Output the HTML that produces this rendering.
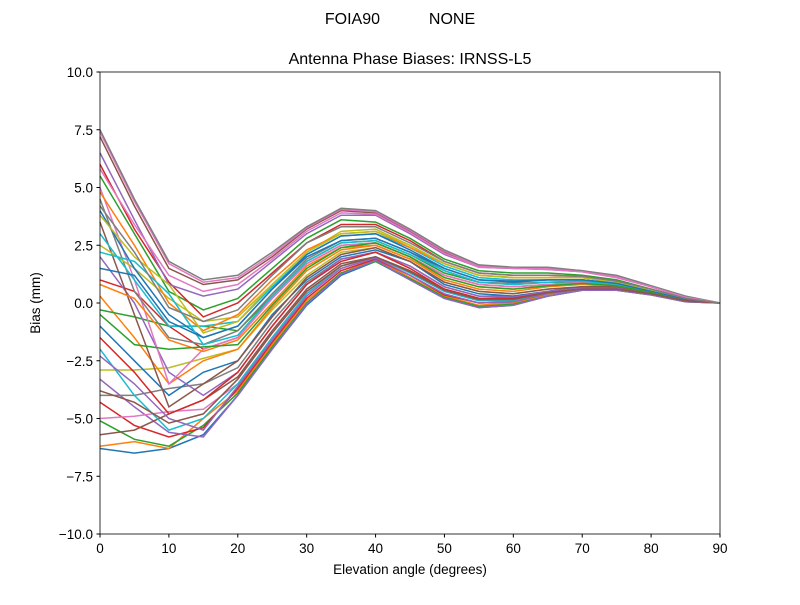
<!DOCTYPE html>
<html><head><meta charset="utf-8"><style>
body{margin:0;background:#fff}
svg text{font-family:"Liberation Sans","DejaVu Sans",sans-serif;fill:#000}
</style></head><body>
<svg id="chart" width="800" height="600" xmlns="http://www.w3.org/2000/svg">
<rect width="800" height="600" fill="#fff"/>
<text x="400" y="24" font-size="16" text-anchor="middle" xml:space="preserve">FOIA90           NONE</text>
<text x="410" y="64" font-size="16" text-anchor="middle">Antenna Phase Biases: IRNSS-L5</text>
<g id="lines"></g>
<g id="axes"></g>
<text x="410" y="574" font-size="13.5" text-anchor="middle">Elevation angle (degrees)</text>
<text x="40" y="303" font-size="13.5" text-anchor="middle" transform="rotate(-90 40 303)">Bias (mm)</text>
</svg>
<script>
const angles=[0,5,10,15,20,25,30,35,40,45,50,55,60,65,70,75,80,85,90];
const xTicks=[0,10,20,30,40,50,60,70,80,90];
const yTicks=[-10,-7.5,-5,-2.5,0,2.5,5,7.5,10];
const yTickLabels=["\u221210.0","\u22127.5","\u22125.0","\u22122.5","0.0","2.5","5.0","7.5","10.0"];
const colors=["#1f77b4","#ff7f0e","#2ca02c","#d62728","#9467bd","#8c564b","#e377c2","#7f7f7f","#bcbd22","#17becf"];
const biasSeries=[
[-6.3,-6.5,-6.3,-5.7,-4.0,-2.0,-0.1,1.2,1.8,1.0,0.2,-0.2,-0.1,0.3,0.55,0.55,0.35,0.05,0],
[-6.2,-6.0,-6.3,-5.0,-3.8,-1.8,0.1,1.3,1.9,1.1,0.3,-0.1,0.0,0.35,0.55,0.55,0.35,0.05,0],
[-5.1,-5.9,-6.2,-5.3,-3.9,-1.9,0.0,1.3,1.8,1.05,0.25,-0.15,-0.05,0.3,0.55,0.55,0.35,0.05,0],
[-4.3,-5.3,-5.8,-5.4,-3.7,-1.7,0.2,1.4,1.9,1.2,0.35,0.0,0.05,0.4,0.6,0.6,0.4,0.1,0],
[-3.3,-4.5,-5.6,-5.8,-4.0,-2.0,-0.05,1.25,1.85,1.0,0.2,-0.2,-0.1,0.3,0.55,0.55,0.35,0.05,0],
[-5.7,-5.5,-4.8,-4.2,-3.2,-1.2,0.6,1.7,2.0,1.4,0.6,0.2,0.2,0.45,0.6,0.6,0.4,0.1,0],
[-5.0,-4.9,-4.7,-4.6,-3.5,-1.5,0.4,1.5,2.0,1.3,0.5,0.1,0.1,0.4,0.6,0.6,0.4,0.1,0],
[-4.0,-4.0,-3.7,-3.5,-2.8,-0.8,0.9,1.9,2.2,1.6,0.7,0.3,0.3,0.5,0.65,0.65,0.4,0.1,0],
[-2.9,-2.9,-2.8,-2.4,-2.0,-0.3,1.2,2.2,2.4,1.8,0.9,0.5,0.4,0.6,0.7,0.7,0.45,0.1,0],
[-2.0,-4.0,-5.5,-5.0,-3.5,-1.5,0.4,1.6,2.0,1.3,0.5,0.1,0.1,0.4,0.6,0.6,0.4,0.1,0],
[-1.0,-2.5,-4.0,-3.0,-2.5,-0.5,1.0,2.0,2.3,1.8,0.8,0.4,0.3,0.5,0.7,0.7,0.45,0.1,0],
[0.3,-1.5,-3.5,-2.5,-2.0,-0.2,1.4,2.3,2.5,1.9,1.0,0.6,0.5,0.7,0.8,0.7,0.45,0.1,0],
[-0.3,-0.6,-1.0,-1.0,-1.2,0.3,1.8,2.6,2.7,2.1,1.3,0.9,0.8,0.9,0.9,0.8,0.5,0.15,0],
[1.0,0.5,-1.0,-2.0,-1.5,0.2,1.7,2.5,2.6,2.0,1.2,0.8,0.7,0.8,0.9,0.75,0.5,0.15,0],
[2.0,0.0,-3.0,-4.0,-3.0,-1.0,0.8,1.9,2.2,1.6,0.7,0.3,0.25,0.5,0.65,0.65,0.4,0.1,0],
[3.5,-0.5,-4.5,-3.5,-2.5,-0.6,1.1,2.1,2.4,1.8,0.9,0.5,0.4,0.6,0.7,0.7,0.45,0.1,0],
[5.0,1.0,-3.5,-2.0,-1.5,0.2,1.7,2.5,2.6,2.0,1.2,0.8,0.7,0.8,0.9,0.75,0.5,0.15,0],
[4.5,0.5,-1.5,-1.8,-1.2,0.4,1.9,2.7,2.8,2.2,1.4,0.9,0.85,0.9,0.95,0.8,0.5,0.15,0],
[2.5,1.5,0.2,-0.8,-0.6,0.8,2.2,3.1,3.2,2.5,1.7,1.2,1.1,1.1,1.1,0.9,0.55,0.2,0],
[3.0,1.0,-1.0,-1.0,-0.8,0.7,2.1,2.9,3.0,2.4,1.6,1.1,1.0,1.0,1.0,0.85,0.5,0.15,0],
[4.0,1.5,-0.5,-1.5,-1.0,0.6,2.0,2.7,2.8,2.2,1.5,1.0,0.9,1.0,1.0,0.85,0.5,0.15,0],
[4.8,2.5,0.0,-1.2,-0.5,1.0,2.3,3.0,3.1,2.4,1.7,1.2,1.1,1.1,1.1,0.9,0.55,0.2,0],
[5.5,3.0,0.5,-0.3,0.2,1.5,2.8,3.6,3.5,2.8,1.9,1.4,1.3,1.3,1.2,1.0,0.6,0.2,0],
[6.0,3.2,0.9,-0.6,0.0,1.3,2.6,3.4,3.4,2.7,1.8,1.3,1.2,1.2,1.15,0.95,0.6,0.2,0],
[6.5,3.6,0.8,0.3,0.6,1.8,3.0,3.8,3.8,3.0,2.1,1.55,1.5,1.45,1.35,1.1,0.7,0.25,0],
[7.2,4.2,1.5,0.8,1.0,2.0,3.2,4.0,3.9,3.1,2.2,1.6,1.5,1.5,1.4,1.15,0.7,0.25,0],
[7.4,4.4,1.7,0.9,1.1,2.1,3.25,4.05,3.95,3.15,2.25,1.6,1.5,1.5,1.4,1.15,0.72,0.28,0],
[7.5,4.5,1.8,1.0,1.2,2.2,3.3,4.1,4.0,3.2,2.3,1.65,1.55,1.55,1.4,1.2,0.75,0.3,0],
[3.8,2.0,0.8,-1.3,-0.8,0.8,2.2,3.0,3.1,2.5,1.7,1.2,1.1,1.1,1.1,0.9,0.55,0.2,0],
[2.2,1.8,0.4,-1.8,-1.4,0.3,1.8,2.6,2.7,2.1,1.4,0.9,0.8,0.9,0.95,0.8,0.5,0.15,0],
[1.5,1.2,-0.8,-1.5,-1.0,0.6,2.1,2.9,3.0,2.3,1.5,1.0,0.95,1.0,1.0,0.85,0.5,0.15,0],
[0.8,0.2,-1.6,-2.1,-1.6,0.0,1.6,2.4,2.5,1.9,1.1,0.7,0.6,0.75,0.85,0.75,0.45,0.1,0],
[-0.5,-1.8,-2.0,-1.9,-1.8,-0.1,1.5,2.4,2.6,2.0,1.1,0.7,0.6,0.75,0.85,0.75,0.45,0.1,0],
[-1.5,-3.0,-4.8,-4.2,-3.0,-1.0,0.8,1.8,2.2,1.5,0.6,0.2,0.2,0.45,0.6,0.6,0.4,0.1,0],
[-2.3,-3.5,-5.0,-5.5,-3.6,-1.6,0.3,1.5,1.95,1.2,0.4,0.0,0.05,0.4,0.6,0.6,0.4,0.1,0],
[-3.8,-4.3,-5.2,-4.8,-3.3,-1.3,0.5,1.6,2.0,1.35,0.55,0.15,0.15,0.45,0.6,0.6,0.4,0.1,0],
[5.8,3.4,1.2,0.5,0.8,1.9,3.1,3.9,3.85,3.05,2.15,1.55,1.5,1.45,1.35,1.1,0.7,0.25,0],
[4.2,2.2,-0.2,-0.8,-0.3,1.2,2.6,3.3,3.3,2.6,1.8,1.3,1.2,1.2,1.15,0.95,0.6,0.2,0]
];
const X0=100,X1=720,Y0=534,Y1=72;
function sx(v){return X0+(v-0)/(90-0)*(X1-X0);}
function sy(v){return Y0-(v+10)/20*(Y0-Y1);}
const NS="http://www.w3.org/2000/svg";
const lg=document.getElementById('lines');
biasSeries.forEach((s,i)=>{
  const p=document.createElementNS(NS,'polyline');
  p.setAttribute('points',s.map((v,j)=>sx(angles[j]).toFixed(1)+','+sy(v).toFixed(1)).join(' '));
  p.setAttribute('fill','none');p.setAttribute('stroke',colors[i%10]);p.setAttribute('stroke-width','1.5');
  
  
  lg.appendChild(p);
});
const ax=document.getElementById('axes');
const fr=document.createElementNS(NS,'rect');
fr.setAttribute('x',X0);fr.setAttribute('y',Y1);fr.setAttribute('width',X1-X0);fr.setAttribute('height',Y0-Y1);
fr.setAttribute('fill','none');fr.setAttribute('stroke','#000');fr.setAttribute('stroke-width','0.8');


ax.appendChild(fr);
xTicks.forEach(t=>{
  const l=document.createElementNS(NS,'line');
  l.setAttribute('x1',sx(t));l.setAttribute('x2',sx(t));l.setAttribute('y1',Y0);l.setAttribute('y2',Y0+3.5);l.setAttribute('stroke','#000');
  
  
  ax.appendChild(l);
  const tx=document.createElementNS(NS,'text');
  tx.setAttribute('x',sx(t));tx.setAttribute('y',Y0+19);tx.setAttribute('font-size','13.5');tx.setAttribute('text-anchor','middle');
  tx.textContent=String(t);
  
  
  ax.appendChild(tx);
});
yTicks.forEach((t,i)=>{
  const l=document.createElementNS(NS,'line');
  l.setAttribute('x1',X0-3.5);l.setAttribute('x2',X0);l.setAttribute('y1',sy(t));l.setAttribute('y2',sy(t));l.setAttribute('stroke','#000');
  
  
  ax.appendChild(l);
  const tx=document.createElementNS(NS,'text');
  tx.setAttribute('x',X0-7);tx.setAttribute('y',sy(t)+5);tx.setAttribute('font-size','13.5');tx.setAttribute('text-anchor','end');
  tx.textContent=yTickLabels[i];
  
  
  ax.appendChild(tx);
});
</script>
</body></html>
